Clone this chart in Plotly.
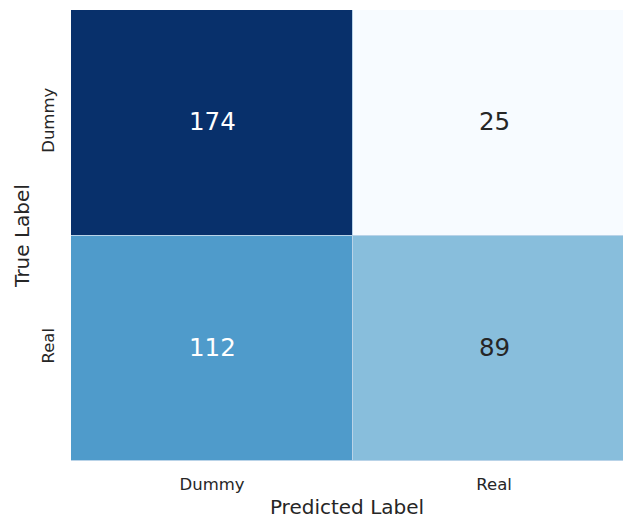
import plotly.graph_objects as go
import plotly.express as px

# Confusion matrix: rows = true label, columns = predicted label
class_names = ["Dummy", "Real"]
counts = [
    [174, 25],
    [112, 89],
]

vmin = min(min(r) for r in counts)
vmax = max(max(r) for r in counts)
mid = (vmin + vmax) / 2

blues = px.colors.sequential.Blues
scale = [[i / (len(blues) - 1), c] for i, c in enumerate(blues)]

fig = go.Figure()
fig.add_trace(go.Heatmap(
    z=counts,
    x=[0, 1],
    y=[0, 1],
    colorscale=scale,
    zmin=vmin,
    zmax=vmax,
    showscale=False,
    xgap=1,
    ygap=1,
    hoverinfo="skip",
))

# Cell annotations: light text on dark cells, dark text on light cells
for i, row in enumerate(counts):
    for j, v in enumerate(row):
        fig.add_annotation(
            x=j, y=i, yshift=1, text=str(v), showarrow=False,
            font=dict(family="DejaVu Sans", size=24.5,
                      color="white" if v > mid else "#262626"),
        )

fig.update_layout(
    width=623,
    height=519,
    margin=dict(l=71, r=0, t=10, b=58),
    paper_bgcolor="white",
    plot_bgcolor="#b9d3e8",
    font=dict(family="DejaVu Sans", color="#262626"),
    xaxis=dict(
        range=[-0.5, 1.457],
        tickvals=[0, 1],
        ticktext=class_names,
        tickfont=dict(size=16.5),
        ticklabelstandoff=11,
        showgrid=False, zeroline=False, ticks="",
        title=dict(text="Predicted Label", font=dict(size=20), standoff=8),
    ),
    yaxis=dict(
        range=[1.5, -0.5],
        tickvals=[0, 1],
        ticktext=class_names,
        tickangle=-90,
        tickfont=dict(size=16.5),
        ticklabelstandoff=13,
        showgrid=False, zeroline=False, ticks="",
        title=dict(text="True Label", font=dict(size=20), standoff=3),
    ),
)

fig.write_html("out.html")
